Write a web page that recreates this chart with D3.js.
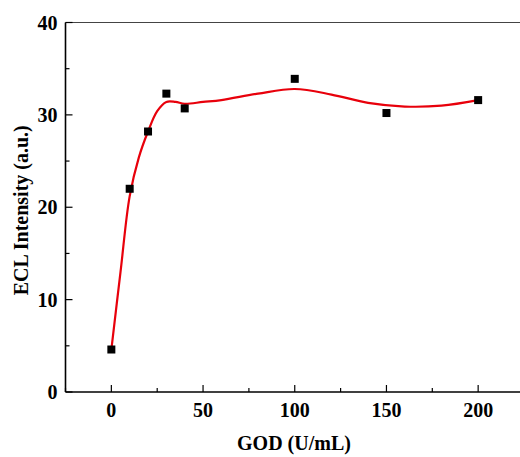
<!DOCTYPE html>
<html>
<head>
<meta charset="utf-8">
<script src="https://cdn.jsdelivr.net/npm/d3@7"></script>
<style>
  body { margin: 0; background: #fff; }
  text { font-family: "Liberation Serif", "Times New Roman", serif; font-weight: bold; }
</style>
</head>
<body>
<div id="chart"></div>
<script>
// measured points
var godConc = [0, 10, 20, 30, 40, 100, 150, 200];
var eclValues = [4.6, 22.0, 28.2, 32.3, 30.7, 33.9, 30.2, 31.6];

// fitted curve
var fitX = [0, 5, 10, 15, 20, 25, 30, 35, 40, 50, 60, 80, 100, 120, 140, 160, 180, 200];
var fitY = [4.6, 13.0, 21.2, 25.4, 28.2, 30.4, 31.4, 31.4, 31.2, 31.4, 31.6, 32.3, 32.8, 32.2, 31.3, 30.9, 31.0, 31.6];

var xTicks = [0, 50, 100, 150, 200];
var yTicks = [0, 10, 20, 30, 40];

var width = 520, height = 457;
var margin = { top: 22.5, left: 65.5, bottom: 65, right: -4 };

var svg = d3.select("#chart").append("svg")
  .attr("width", width)
  .attr("height", height);

var x = d3.scaleLinear().domain([-25, 225]).range([margin.left, width - margin.right]);
var y = d3.scaleLinear().domain([0, 40]).range([height - margin.bottom, margin.top]);

var x0 = margin.left, y0 = height - margin.bottom;

// top frame line
svg.append("line")
  .attr("x1", x0).attr("x2", width)
  .attr("y1", y(40)).attr("y2", y(40))
  .attr("stroke", "#444").attr("stroke-width", 1.2);

// X axis
var xAxis = svg.append("g")
  .attr("transform", "translate(0," + y0 + ")");
xAxis.append("line")
  .attr("x1", x0).attr("x2", width)
  .attr("stroke", "#000").attr("stroke-width", 1.6);
xAxis.selectAll(".minor")
  .data([-25, 25, 75, 125, 175])
  .enter().append("line")
  .attr("x1", function (d) { return x(d); })
  .attr("x2", function (d) { return x(d); })
  .attr("y1", 0).attr("y2", -4)
  .attr("stroke", "#000").attr("stroke-width", 1.2);
xAxis.selectAll(".major")
  .data(xTicks)
  .enter().append("line")
  .attr("x1", function (d) { return x(d); })
  .attr("x2", function (d) { return x(d); })
  .attr("y1", 0).attr("y2", -7)
  .attr("stroke", "#000").attr("stroke-width", 1.2);
xAxis.selectAll(".lbl")
  .data(xTicks)
  .enter().append("text")
  .attr("x", function (d) { return x(d); })
  .attr("y", 25)
  .attr("text-anchor", "middle")
  .style("font-size", "20px")
  .text(function (d) { return d; });

// Y axis
var yAxis = svg.append("g")
  .attr("transform", "translate(" + x0 + ",0)");
yAxis.append("line")
  .attr("y1", y(0)).attr("y2", y(40))
  .attr("stroke", "#000").attr("stroke-width", 1.6);
yAxis.selectAll(".minor")
  .data([5, 15, 25, 35])
  .enter().append("line")
  .attr("y1", function (d) { return y(d); })
  .attr("y2", function (d) { return y(d); })
  .attr("x1", 0).attr("x2", 4)
  .attr("stroke", "#000").attr("stroke-width", 1.2);
yAxis.selectAll(".major")
  .data(yTicks)
  .enter().append("line")
  .attr("y1", function (d) { return y(d); })
  .attr("y2", function (d) { return y(d); })
  .attr("x1", 0).attr("x2", 7)
  .attr("stroke", "#000").attr("stroke-width", 1.2);
yAxis.selectAll(".lbl")
  .data(yTicks)
  .enter().append("text")
  .attr("x", -8)
  .attr("y", function (d) { return y(d); })
  .attr("dy", "0.35em")
  .attr("text-anchor", "end")
  .style("font-size", "20px")
  .text(function (d) { return d; });

// axis titles
svg.append("text")
  .attr("x", 294)
  .attr("y", 450)
  .attr("text-anchor", "middle")
  .style("font-size", "20px")
  .text("GOD (U/mL)");

svg.append("text")
  .attr("transform", "translate(28," + ((y(0) + y(40)) / 2 + 3) + ") rotate(-90)")
  .attr("text-anchor", "middle")
  .style("font-size", "20px")
  .text("ECL Intensity (a.u.)");

// fitted curve
var fitData = fitX.map(function (d, i) { return { x: d, y: fitY[i] }; });
var line = d3.line()
  .x(function (d) { return x(d.x); })
  .y(function (d) { return y(d.y); })
  .curve(d3.curveCatmullRom.alpha(0.5));

svg.append("path")
  .datum(fitData)
  .attr("d", line)
  .attr("fill", "none")
  .attr("stroke", "#e8000b")
  .attr("stroke-width", 2.2);

// data points
var pts = godConc.map(function (d, i) { return { x: d, y: eclValues[i] }; });
svg.selectAll(".pt")
  .data(pts)
  .enter().append("rect")
  .attr("x", function (d) { return x(d.x) - 4; })
  .attr("y", function (d) { return y(d.y) - 4; })
  .attr("width", 8)
  .attr("height", 8)
  .attr("fill", "#000");
</script>
</body>
</html>
